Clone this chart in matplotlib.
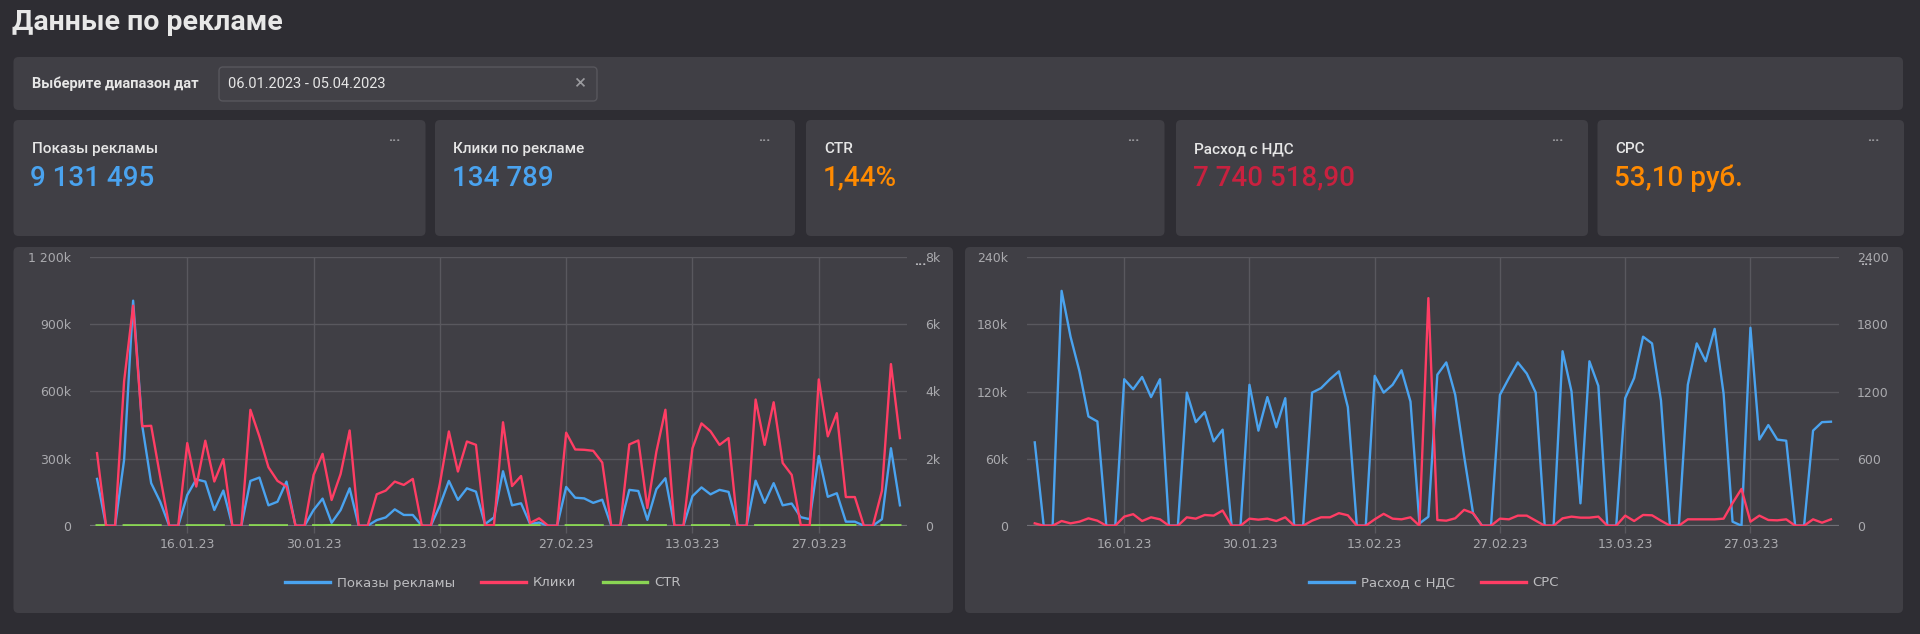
import numpy as np
import pandas as pd
import matplotlib
matplotlib.use('agg')
import matplotlib.pyplot as plt
import matplotlib.dates as mdates
from matplotlib.patches import FancyBboxPatch
from matplotlib.lines import Line2D
from matplotlib.ticker import FuncFormatter

plt.rcParams['font.family'] = ['Roboto', 'DejaVu Sans']

# ---- data ----
dates = pd.date_range('2023-01-06', '2023-04-05')
tick_dates = ['2023-01-16', '2023-01-30', '2023-02-13', '2023-02-27', '2023-03-13', '2023-03-27']

# impressions, thousands
shows_k = [209, 0, 0, 294, 1005, 450, 190, 107, 0, 0,
           137, 207, 197, 70, 157, 0, 0, 200, 215, 91,
           107, 197, 0, 0, 70, 121, 13, 70, 167, 0,
           0, 25, 37, 73, 48, 48, 0, 0, 90, 200,
           115, 167, 152, 7, 37, 243, 91, 100, 8, 14,
           0, 0, 173, 125, 122, 102, 116, 0, 0, 160,
           155, 26, 163, 212, 0, 0, 132, 171, 140, 160,
           151, 0, 0, 201, 102, 190, 91, 99, 38, 29,
           311, 129, 145, 18, 18, 0, 0, 29, 346, 91]
clicks = [2160, 0, 0, 4300, 6550, 2960, 2975, 1460, 0, 0,
          2460, 1165, 2530, 1315, 1980, 0, 0, 3450, 2655, 1740,
          1335, 1165, 0, 0, 1510, 2140, 765, 1540, 2835, 0,
          0, 935, 1045, 1313, 1214, 1393, 0, 0, 1250, 2806,
          1612, 2507, 2408, 0, 20, 3080, 1180, 1480, 80, 220,
          0, 0, 2770, 2270, 2260, 2230, 1880, 0, 0, 2420,
          2538, 528, 2203, 3452, 0, 0, 2305, 3046, 2812, 2406,
          2609, 0, 0, 3756, 2406, 3675, 1868, 1513, 20, 10,
          4355, 2660, 3350, 853, 853, 0, 0, 1036, 4812, 2609]
ctr = [1.0, 1.2, None, 1.5, 0.7, 0.7, 1.6, 1.4, None, None,
       1.8, 0.6, 1.3, 1.9, 1.3, None, None, 1.7, 1.2, 1.9,
       1.2, 0.6, None, None, 2.2, 1.8, 5.9, 2.2, 1.7, None,
       None, 3.7, 2.8, 1.8, 2.5, 2.9, 1.0, None, 1.4, 1.4,
       1.4, 1.5, 1.6, 0.1, 0.1, 1.3, 1.3, 1.5, 1.0, 1.6,
       None, None, 1.6, 1.8, 1.9, 2.2, 1.6, None, None, 1.5,
       1.6, 2.0, 1.4, 1.6, None, None, 1.7, 1.8, 2.0, 1.5,
       1.7, None, None, 1.9, 2.4, 1.9, 2.1, 1.5, 0.1, 0.1,
       1.4, 2.1, 2.3, 4.7, 4.7, None, None, 3.6, 1.4, 2.9]
spend_k = [74.5, 0, 0, 210, 169, 138, 97.7, 93.2, 0, 0,
           131, 122, 133, 115, 131, 0, 0, 119, 92.6, 101.6,
           75.4, 85.9, 0, 0, 126, 85, 115, 88, 114, 0,
           0, 119, 123, 131, 138, 106, 0, 0, 134, 119,
           126, 139, 111, 2, 8, 135, 146, 117, 62, 11,
           0, 0, 117, 132, 146, 136, 119, 0, 0, 156,
           120, 20, 147, 125, 0, 0, 114, 132, 169, 163,
           112, 0, 0, 126, 163, 147, 176, 118, 3.6, 0,
           177, 77, 90, 77, 76, 0, 0, 85, 92.6, 93]
cpc = [21, 0, 0, 42, 21, 36, 66, 45, 0, 0,
       81, 103, 42, 75, 57, 0, 0, 75, 63, 96,
       90, 136, 0, 0, 63, 54, 63, 42, 75, 0,
       0, 45, 75, 75, 112, 93, 0, 0, 57, 106,
       63, 57, 75, 0, 2035, 51, 45, 66, 142, 112,
       0, 0, 63, 57, 90, 90, 45, 0, 0, 66,
       81, 72, 72, 81, 0, 0, 90, 42, 96, 93,
       45, 0, 0, 57, 57, 57, 57, 63, 202, 329,
       36, 90, 51, 48, 57, 0, 0, 57, 27, 57]

card_labels = ['Показы рекламы', 'Клики по рекламе', 'CTR', 'Расход с НДС', 'CPC']
card_values = ['9 131 495', '134 789', '1,44%', '7 740 518,90', '53,10 руб.']

# ---- styling ----
W, H = 1920, 634
BG = '#2e2d33'
PANEL = '#403f45'
GRID = '#59585e'
TICK = '#aaaaae'
BLUE = '#4aa3ef'
RED = '#ff3d64'
GREEN = '#8ad554'
ORANGE = '#ff8a00'
CRIMSON = '#c8213f'
card_colors = [BLUE, BLUE, ORANGE, CRIMSON, ORANGE]

fig = plt.figure(figsize=(W / 100, H / 100), dpi=100, facecolor=BG)


def box(x0, y0, x1, y1, fc=PANEL, ec='none', r=0.05, z=-5):
    p = FancyBboxPatch((x0 / 100, (H - y1) / 100), (x1 - x0) / 100, (y1 - y0) / 100,
                       boxstyle='round,pad=0,rounding_size=%g' % r,
                       transform=fig.dpi_scale_trans, fc=fc, ec=ec, lw=1, zorder=z)
    fig.add_artist(p)


def txt(x, y, s, **kw):
    kw.setdefault('va', 'center')
    fig.text(x / W, 1 - y / H, s, **kw)


def px_axes(x0, y0, x1, y1):
    return fig.add_axes([x0 / W, 1 - y1 / H, (x1 - x0) / W, (y1 - y0) / H])


# header
txt(12, 23, 'Данные по рекламе', fontsize=20.5, color='#e8e8e8', weight='bold')

# filter bar
box(13.5, 57, 1903, 110)
txt(32, 84, 'Выберите диапазон дат', fontsize=10.5, color='#e6e6e6', weight='bold')
box(219, 67, 597, 101, fc='#424147', ec='#58575d', r=0.04, z=-4)
txt(228, 84, '06.01.2023 - 05.04.2023', fontsize=10.5, color='#e6e6e6')
txt(580, 84, '×', fontsize=15, color='#9a9a9e', ha='center')

# KPI cards
card_x = [(13.5, 425.5), (435, 795), (806, 1164.5), (1176, 1588), (1597.5, 1904)]
for (x0, x1), lab, val, col in zip(card_x, card_labels, card_values, card_colors):
    box(x0, 120, x1, 236)
    txt(x0 + 18, 149, lab, fontsize=11, color='#e6e6e6', weight='medium')
    txt(x0 + 17, 178, val, fontsize=20, color=col, weight='medium')
    txt(x1 - 31, 137, '...', fontsize=10, color='#a0a0a4', ha='center', weight='bold')

# chart panels
box(13.5, 247, 953, 613)
box(965, 247, 1903, 613)

xfmt = mdates.DateFormatter('%d.%m.%y')
ticks = pd.to_datetime(tick_dates)


def style_axes(ax, pad_days):
    ax.set_facecolor('none')
    for s in ax.spines.values():
        s.set_visible(False)
    ax.set_xlim(dates[0] - pd.Timedelta(days=pad_days), dates[-1] + pd.Timedelta(days=pad_days))
    ax.set_xticks(ticks)
    ax.xaxis.set_major_formatter(xfmt)
    ax.tick_params(axis='x', colors=GRID, labelcolor=TICK, length=5, width=1, pad=4,
                   labelsize=9, labelfontfamily='DejaVu Sans')
    ax.tick_params(axis='y', length=0, pad=13.5, labelcolor=TICK, labelsize=9,
                   labelfontfamily='DejaVu Sans')
    ax.grid(True, color=GRID, lw=1)
    ax.axhline(0, color='#76757b', lw=1.6, zorder=1)


def twin_style(ax2):
    for s in ax2.spines.values():
        s.set_visible(False)
    ax2.tick_params(axis='y', length=0, pad=13, labelcolor=TICK, labelsize=9,
                    labelfontfamily='DejaVu Sans')


# left chart: impressions / clicks / CTR
ax1 = px_axes(90, 257, 907, 525.7)
style_axes(ax1, 0.78)
ax1.set_ylim(0, 1200)
ax1.set_yticks([0, 300, 600, 900, 1200])
ax1.yaxis.set_major_formatter(FuncFormatter(
    lambda v, p: '0' if v == 0 else f'{v:,.0f}k'.replace(',', ' ')))
ax1.plot(dates, shows_k, color=BLUE, lw=1.7, zorder=3)
ax1b = ax1.twinx()
twin_style(ax1b)
ax1b.set_ylim(0, 8000)
ax1b.set_yticks([0, 2000, 4000, 6000, 8000])
ax1b.yaxis.set_major_formatter(FuncFormatter(lambda v, p: '0' if v == 0 else f'{v/1000:.0f}k'))
ctr_arr = np.array([np.nan if c is None else c for c in ctr])
ax1b.plot(dates, ctr_arr, color=GREEN, lw=2.2, zorder=3)
ax1b.plot(dates, clicks, color=RED, lw=1.7, zorder=4)

# right chart: spend / CPC
ax2 = px_axes(1026.7, 257.3, 1839, 525.7)
style_axes(ax2, 0.9)
ax2.set_ylim(0, 240)
ax2.set_yticks([0, 60, 120, 180, 240])
ax2.yaxis.set_major_formatter(FuncFormatter(lambda v, p: '0' if v == 0 else f'{v:.0f}k'))
ax2.plot(dates, spend_k, color=BLUE, lw=1.7, zorder=3)
ax2b = ax2.twinx()
twin_style(ax2b)
ax2b.set_ylim(0, 2400)
ax2b.set_yticks([0, 600, 1200, 1800, 2400])
ax2b.plot(dates, cpc, color=RED, lw=1.7, zorder=4)

# panel menu dots
txt(920, 261, '...', fontsize=10, color='#c8c8cc', ha='center', weight='bold')
txt(1866, 261, '...', fontsize=10, color='#c8c8cc', ha='center', weight='bold')

# legends
leg_kw = dict(loc='center', frameon=False, handlelength=3.4, handletextpad=0.5,
              columnspacing=2.0, labelcolor='#bdbdc0',
              prop={'family': 'DejaVu Sans', 'size': 9.5})
h1 = [Line2D([], [], color=c, lw=2.4) for c in (BLUE, RED, GREEN)]
fig.legend(h1, ['Показы рекламы', 'Клики', 'CTR'], ncol=3,
           bbox_to_anchor=(483 / W, 1 - 583 / H), **leg_kw)
h2 = [Line2D([], [], color=c, lw=2.4) for c in (BLUE, RED)]
fig.legend(h2, ['Расход с НДС', 'CPC'], ncol=2,
           bbox_to_anchor=(1434 / W, 1 - 583 / H), **leg_kw)

fig.savefig('out.png', dpi=100, facecolor=BG)
